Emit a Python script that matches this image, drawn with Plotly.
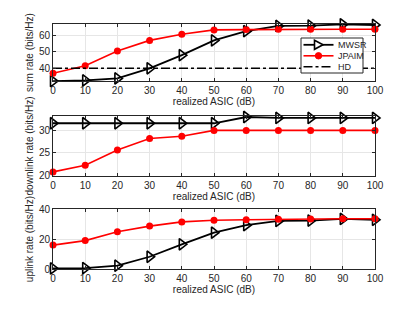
import plotly.graph_objects as go
from plotly.subplots import make_subplots

asic = [0, 10, 20, 30, 40, 50, 60, 70, 80, 90, 100]

sum_mwsr = [32.2, 32.6, 33.8, 40.0, 48.0, 57.0, 62.6, 65.8, 66.0, 66.8, 66.4]
sum_jpaim = [37.0, 41.6, 50.6, 57.0, 60.8, 63.4, 63.6, 63.8, 63.8, 63.8, 63.8]
sum_hd = [40, 40, 40, 40, 40, 40, 40, 40, 40, 40, 40]

dl_mwsr = [31.6, 31.6, 31.6, 31.6, 31.6, 31.6, 33.0, 32.8, 32.8, 32.8, 32.8]
dl_jpaim = [20.7, 22.2, 25.6, 28.2, 28.7, 30.0, 30.0, 30.0, 30.0, 30.0, 30.0]

ul_mwsr = [0.4, 0.6, 2.2, 8.2, 16.5, 24.3, 29.3, 32.2, 32.4, 33.5, 32.9]
ul_jpaim = [16.0, 19.0, 24.9, 28.7, 31.5, 32.6, 33.0, 33.3, 33.4, 33.6, 33.6]

legend_names = ["MWSR", "JPAIM", "HD"]
ylabels = ["sum rate (bits/Hz)", "downlink rate (bits/Hz)", "uplink rate (bits/Hz)"]
xlabel = "realized ASIC (dB)"

FONT = "Liberation Sans, Arial, sans-serif"
AX = "#262626"
GRID = "#e6e6e6"
RED = "#ff0000"

fig = make_subplots(rows=3, cols=1)

mw = dict(color="black", width=1.8)
mwm = dict(symbol="triangle-right-open", size=10, color="black", line=dict(width=1.6, color="black"))
jp = dict(color=RED, width=1.6)
jpm = dict(symbol="circle", size=7, color=RED)

fig.add_trace(go.Scatter(x=asic, y=sum_mwsr, mode="lines+markers", name=legend_names[0], line=mw, marker=mwm, cliponaxis=False), row=1, col=1)
fig.add_trace(go.Scatter(x=asic, y=sum_jpaim, mode="lines+markers", name=legend_names[1], line=jp, marker=jpm, cliponaxis=False), row=1, col=1)
fig.add_trace(go.Scatter(x=asic, y=sum_hd, mode="lines", name=legend_names[2], line=dict(color="black", width=1.6, dash="dashdot")), row=1, col=1)

fig.add_trace(go.Scatter(x=asic, y=dl_mwsr, mode="lines+markers", name=legend_names[0], line=mw, marker=mwm, cliponaxis=False), row=2, col=1)
fig.add_trace(go.Scatter(x=asic, y=dl_jpaim, mode="lines+markers", name=legend_names[1], line=jp, marker=jpm, cliponaxis=False), row=2, col=1)

fig.add_trace(go.Scatter(x=asic, y=ul_mwsr, mode="lines+markers", name=legend_names[0], line=mw, marker=mwm, cliponaxis=False), row=3, col=1)
fig.add_trace(go.Scatter(x=asic, y=ul_jpaim, mode="lines+markers", name=legend_names[1], line=jp, marker=jpm, cliponaxis=False), row=3, col=1)

domains = [[0.767, 1.0], [0.380, 0.624], [0.0, 0.244]]
yranges = [[32.2, 67.0], [19.8, 33.2], [0, 40]]
yticks = [[40, 50, 60], [20, 25, 30], [0, 20, 40]]

for i in range(3):
    r = i + 1
    fig.update_xaxes(row=r, col=1, range=[0, 100], tickvals=asic, ticks="inside", ticklen=3,
                     showline=True, linecolor=AX, linewidth=1, mirror="ticks", tickcolor=AX,
                     showgrid=True, gridcolor=GRID, zeroline=False,
                     tickfont=dict(size=10, color=AX, family=FONT),
                     title=dict(text=xlabel, font=dict(size=10, color=AX, family=FONT), standoff=2))
    fig.update_yaxes(row=r, col=1, range=yranges[i], tickvals=yticks[i], domain=domains[i], ticks="inside", ticklen=3,
                     showline=True, linecolor=AX, linewidth=1, mirror="ticks", tickcolor=AX,
                     showgrid=True, gridcolor=GRID, zeroline=False,
                     tickfont=dict(size=10, color=AX, family=FONT),
                     title=dict(text=ylabels[i], font=dict(size=10, color=AX, family=FONT), standoff=3))

# ---- compact MATLAB-style legend box (layout decoration, plot-area pixel units) ----
PW, PH = 322.0, 245.0
PX0, PY1 = 53.0, 269.0
def px(x):
    return (x - PX0) / PW
def py(y):
    return (PY1 - y) / PH

shapes = []
annotations = []
bx0, bx1, by0, by1 = 301, 363, 38, 73
shapes.append(dict(type="rect", xref="paper", yref="paper", x0=px(bx0), x1=px(bx1), y0=py(by1), y1=py(by0),
                   fillcolor="white", line=dict(color=AX, width=1), layer="above"))
rows_y = [44.8, 55.8, 66.8]
lx0, lx1, mx, tx = 303.5, 333.5, 318.5, 336
styles = [dict(color="black", width=1.8), dict(color=RED, width=1.6), dict(color="black", width=1.6, dash="dashdot")]
for name, yy, st in zip(legend_names, rows_y, styles):
    shapes.append(dict(type="line", xref="paper", yref="paper", x0=px(lx0), x1=px(lx1), y0=py(yy), y1=py(yy),
                       line=st, layer="above"))
    annotations.append(dict(text=name, xref="paper", yref="paper", x=px(tx), y=py(yy), xanchor="left", yanchor="middle",
                            showarrow=False, font=dict(size=9, family=FONT, color=AX)))
t = rows_y[0]
shapes.append(dict(type="path", xref="paper", yref="paper",
                   path=f"M {px(mx-4)} {py(t-4.5)} L {px(mx+4.5)} {py(t)} L {px(mx-4)} {py(t+4.5)} Z",
                   fillcolor="white", line=dict(color="black", width=1.6), layer="above"))
c = rows_y[1]
shapes.append(dict(type="circle", xref="paper", yref="paper", x0=px(mx-3.2), x1=px(mx+3.2), y0=py(c+3.2), y1=py(c-3.2),
                   fillcolor=RED, line=dict(color=RED, width=1), layer="above"))

# page body has an 8px default margin, so the figure is offset by 8px
OFF = 8
fig.update_layout(
    width=415 - OFF, height=312 - OFF,
    margin=dict(l=PX0 - OFF, r=415 - OFF - (PX0 - OFF) - PW, t=24 - OFF, b=312 - OFF - (24 - OFF) - PH, autoexpand=False),
    paper_bgcolor="white", plot_bgcolor="white",
    font=dict(family=FONT, size=10, color=AX),
    showlegend=False,
    shapes=shapes,
    annotations=annotations,
)

fig.write_html("out.html")
